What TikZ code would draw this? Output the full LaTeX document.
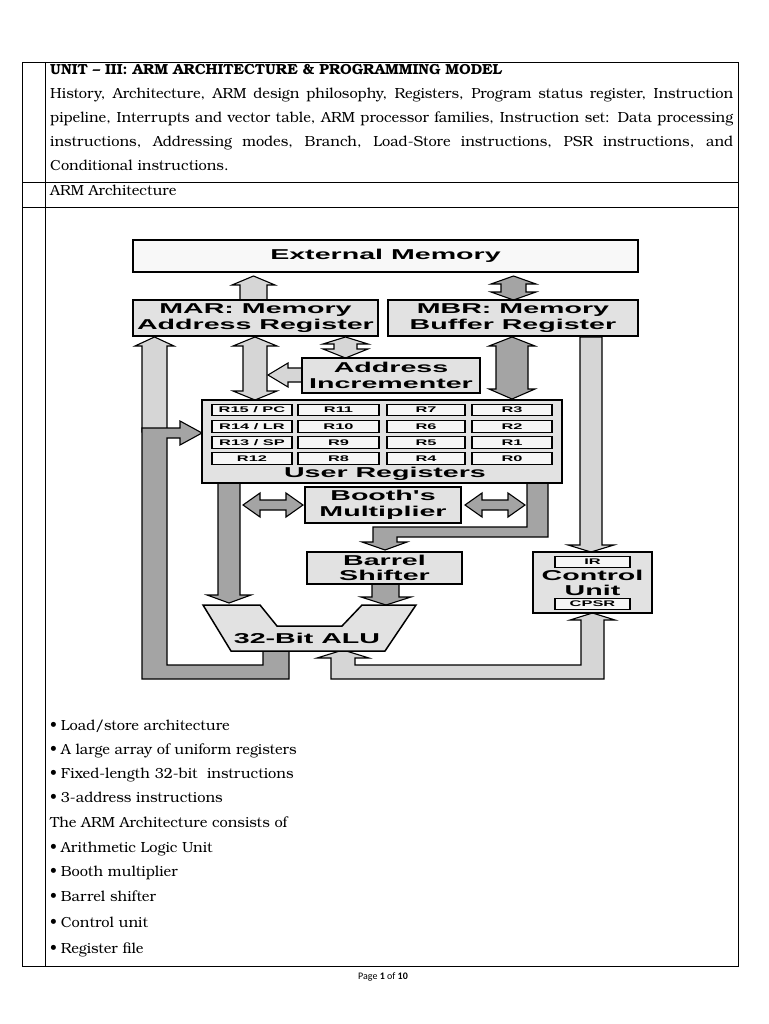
\documentclass[tikz,border=0pt]{standalone}
\usepackage{fontspec}
\setmainfont{TeX Gyre Bonum}
\newfontfamily\dfont[FakeStretch=2.0]{Liberation Sans}
\newfontfamily\ffont{Carlito}
\definecolor{boxgray}{HTML}{E2E2E2}
\definecolor{memfill}{HTML}{F8F8F8}
\definecolor{cellfill}{HTML}{F6F6F6}
\definecolor{lgray}{HTML}{D6D6D6}
\definecolor{dgray}{HTML}{A4A4A4}
\newcommand\dsize{\dfont\bfseries\fontsize{14.3}{16}\selectfont}
\newcommand\csize{\dfont\bfseries\fontsize{8.2}{8}\selectfont}
\newcommand\bodysize{\fontsize{14.6}{16}\selectfont}
\begin{document}
\begin{tikzpicture}[x=1pt,y=-1pt,
  box/.style={draw=black, line width=1.5pt, fill=boxgray, inner sep=0pt, align=center, font=\dsize},
  cell/.style={draw=black, line width=1.1pt, fill=cellfill, inner sep=0pt, minimum height=11.5pt, font=\csize},
  larr/.style={draw=black, line width=1.1pt, fill=lgray, line join=miter},
  darr/.style={draw=black, line width=1.1pt, fill=dgray, line join=miter},
  txt/.style={anchor=base west, inner sep=0pt, font=\bodysize},
  rule/.style={draw=black, line width=0.9pt}]
\fill[white] (0,0) rectangle (768,1024);
\useasboundingbox (0,0) rectangle (768,1024);

% ---------- table ----------
\draw[rule] (22,62) rectangle (738,966);
\draw[rule] (45,62) -- (45,966);
\draw[rule] (22,182) -- (738,182);
\draw[rule] (22,207) -- (738,207);

\node[txt, font=\bfseries\bodysize] (unit) at (50,75) {UNIT – III: ARM ARCHITECTURE \& PROGRAMMING MODEL};
\node[txt] (l1) at (50,99) {\makebox[683pt][s]{History, Architecture, ARM design philosophy, Registers, Program status register, Instruction}};
\node[txt] (l2) at (50,123) {\makebox[683pt][s]{pipeline, Interrupts and vector table, ARM processor families, Instruction set: Data processing}};
\node[txt] (l3) at (50,147) {\makebox[683pt][s]{instructions, Addressing modes, Branch, Load-Store instructions, PSR instructions, and}};
\node[txt] (l4) at (50,171) {Conditional instructions.};
\node[txt] (archt) at (50,196) {ARM Architecture};

% ---------- arrows ----------
% MAR -> External memory
\filldraw[larr] (240,300) -- (240,285) -- (232,285) -- (253.5,276) -- (275,285) -- (267,285) -- (267,300) -- cycle;
% External memory <-> MBR
\filldraw[darr] (513.5,276) -- (536,284) -- (526,284) -- (526,292) -- (536,292) -- (513.5,300) -- (491,292) -- (501,292) -- (501,284) -- (491,284) -- cycle;
% left light bar up to MAR
\filldraw[larr] (142,432) -- (142,346) -- (135,346) -- (154.5,337) -- (174,346) -- (167,346) -- (167,432) -- cycle;
% ALU result bus
\filldraw[darr] (289,651) -- (289,679) -- (142,679) -- (142,428) -- (180,428) -- (180,421) -- (202,433) -- (180,445) -- (180,438) -- (167,438) -- (167,665) -- (263,665) -- (263,651) -- cycle;
% MAR <-> registers
\filldraw[larr] (255,337) -- (277,346) -- (267,346) -- (267,391) -- (277,391) -- (255,400) -- (233,391) -- (243,391) -- (243,346) -- (233,346) -- cycle;
% MAR <-> incrementer
\filldraw[larr] (345.5,337) -- (368,344) -- (357,344) -- (357,349) -- (368,349) -- (345.5,358) -- (323,349) -- (334,349) -- (334,344) -- (323,344) -- cycle;
% incrementer -> bar
\filldraw[larr] (268,375) -- (288,363) -- (288,368) -- (302,368) -- (302,382) -- (288,382) -- (288,387) -- cycle;
% MBR <-> registers
\filldraw[darr] (512,337) -- (535,346) -- (528,346) -- (528,389) -- (535,389) -- (512,399) -- (489,389) -- (496,389) -- (496,346) -- (489,346) -- cycle;
% MBR -> control unit
\filldraw[larr] (580,337) -- (580,545) -- (568,545) -- (591,552) -- (614,545) -- (602,545) -- (602,337) -- cycle;
% control unit <-> ALU
\filldraw[larr] (592.5,613) -- (615,620) -- (604,620) -- (604,679) -- (331,679) -- (331,658) -- (317,658) -- (343,650) -- (369,658) -- (355,658) -- (355,665) -- (581,665) -- (581,620) -- (570,620) -- cycle;
% A bus
\filldraw[darr] (218,483) -- (218,595) -- (207,595) -- (229,603) -- (251,595) -- (240,595) -- (240,483) -- cycle;
% B bus
\filldraw[darr] (527,483) -- (548,483) -- (548,537) -- (397,537) -- (397,542) -- (407,542) -- (385,550) -- (362,542) -- (373,542) -- (373,527) -- (527,527) -- cycle;
% Booth arrows
\filldraw[darr] (243,505) -- (260,493) -- (260,500) -- (286,500) -- (286,493) -- (303,505) -- (286,517) -- (286,510) -- (260,510) -- (260,517) -- cycle;
\filldraw[darr] (465,505) -- (482,493) -- (482,500) -- (508,500) -- (508,493) -- (525,505) -- (508,517) -- (508,510) -- (482,510) -- (482,517) -- cycle;
% barrel -> ALU
\filldraw[darr] (372,584) -- (372,597) -- (361,597) -- (386,605) -- (411,597) -- (399,597) -- (399,584) -- cycle;

% ---------- boxes ----------
\node[box, fill=memfill, minimum width=505pt, minimum height=32pt] (mem) at (385.5,256) {External Memory};
\node[box, minimum width=245pt, minimum height=36pt] (mar) at (255.5,318) {MAR: Memory\\Address Register};
\node[box, minimum width=250pt, minimum height=36pt] (mbr) at (513,318) {MBR: Memory\\Buffer Register};
\node[box, minimum width=178pt, minimum height=35pt] (inc) at (391,375.5) {Address\\Incrementer};
\node[box, minimum width=360pt, minimum height=83pt] (regs) at (382,441.5) {};
\node[font=\dsize, inner sep=0pt] (ureg) at (385,474) {User Registers};
\node[box, minimum width=156pt, minimum height=36pt] (booth) at (383,505) {Booth's\\Multiplier};
\node[box, minimum width=155pt, minimum height=32pt, font=\dsize\fontsize{14.3}{15}\selectfont] (barrel) at (384.5,568) {Barrel\\Shifter};
\node[box, minimum width=119pt, minimum height=61pt, font=\dsize\fontsize{14.3}{15}\selectfont] (cu) at (592.5,582.5) {Control\\Unit};
\node[cell, minimum width=75pt] (ir) at (592.5,562) {IR};
\node[cell, minimum width=75pt] (cpsr) at (592.5,604) {CPSR};

% register cells
\foreach \lab/\cx/\cy/\w [count=\i] in {{R15 / PC}/252/410/80, R11/338.5/410/81, R7/426/410/78, R3/512/410/80,
  {R14 / LR}/252/426.5/80, R10/338.5/426.5/81, R6/426/426.5/78, R2/512/426.5/80,
  {R13 / SP}/252/442.5/80, R9/338.5/442.5/81, R5/426/442.5/78, R1/512/442.5/80,
  R12/252/458.5/80, R8/338.5/458.5/81, R4/426/458.5/78, R0/512/458.5/80}{
  \node[cell, minimum width=\w pt] (reg\i) at (\cx,\cy) {\lab};
}

% ALU
\filldraw[draw=black, line width=1.5pt, fill=boxgray, line join=miter] (203,605) -- (260,605) -- (277,626) -- (342,626) -- (362,605) -- (416,605) -- (385,651) -- (231,651) -- cycle;
\node[font=\dsize, inner sep=0pt] (alu) at (307,638) {32-Bit ALU};

% ---------- list ----------
\node[txt] (b1) at (50,730) {•\hspace{4pt}Load/store architecture};
\node[txt] (b2) at (50,754) {•\hspace{4pt}A large array of uniform registers};
\node[txt] (b3) at (50,778) {•\hspace{4pt}Fixed-length 32-bit\ \ instructions};
\node[txt] (b4) at (50,802) {•\hspace{4pt}3-address instructions};
\node[txt] (cons) at (50,827) {The ARM Architecture consists of};
\node[txt] (b5) at (50,852) {•\hspace{4pt}Arithmetic Logic Unit};
\node[txt] (b6) at (50,876) {•\hspace{4pt}Booth multiplier};
\node[txt] (b7) at (50,901) {•\hspace{4pt}Barrel shifter};
\node[txt] (b8) at (50,927) {•\hspace{4pt}Control unit};
\node[txt] (b9) at (50,953) {•\hspace{4pt}Register file};

% ---------- footer ----------
\node[font=\ffont\fontsize{10}{12}\selectfont, inner sep=0pt] (page) at (383,977) {Page \textbf{1} of \textbf{10}};
\end{tikzpicture}
\end{document}
